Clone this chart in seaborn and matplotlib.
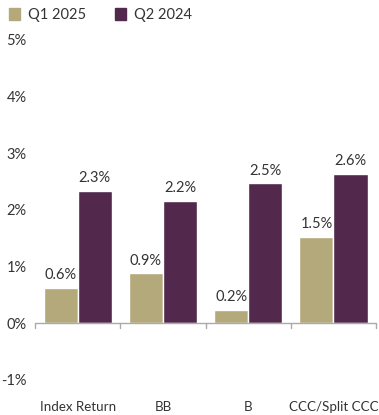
import matplotlib
matplotlib.use("Agg")
import matplotlib.pyplot as plt
import seaborn as sns
import pandas as pd

categories = ["Index Return", "BB", "B", "CCC/Split CCC"]
series = ["Q1 2025", "Q2 2024"]
q1_2025 = [0.62, 0.88, 0.23, 1.52]
q2_2024 = [2.34, 2.16, 2.47, 2.64]
colors = ["#b4a97b", "#52284d"]

df = pd.DataFrame({
    "category": categories * 2,
    "series": [series[0]] * 4 + [series[1]] * 4,
    "value": q1_2025 + q2_2024,
})

sns.set_theme(style="white")
plt.rcParams["font.family"] = ["Lato", "DejaVu Sans"]
txt = "#333333"

fig = plt.figure(figsize=(3.79, 4.15), dpi=100)
ax = fig.add_axes([0.0923, 0.0443, 0.9, 0.9003])

sns.barplot(data=df, x="category", y="value", hue="series", order=categories,
            hue_order=series, palette=colors, width=0.8, saturation=1,
            ax=ax, legend=False)

for cont in ax.containers:
    ax.bar_label(cont, labels=[f"{v:.1f}%" for v in cont.datavalues],
                 padding=4, fontsize=10.5, color=txt)

ax.set_ylim(-1.3, 5.3)
ax.set_xlim(-0.5, 3.5)
ax.set_yticks(range(-1, 6))
ax.set_yticklabels([f"{t}%" for t in range(-1, 6)], fontsize=10.5, color=txt)
ax.tick_params(axis="y", length=0, pad=6)
ax.tick_params(axis="x", length=0, pad=3, labelsize=9.6, labelcolor=txt)
ax.set_xlabel("")
ax.set_ylabel("")
for s in ax.spines.values():
    s.set_visible(False)

# zero line with separators between categories
ax.axhline(0, color="#aaaaaa", lw=1)
for b in [-0.5, 0.5, 1.5, 2.5, 3.5]:
    ax.plot([b, b], [0, -0.09], color="#aaaaaa", lw=1, clip_on=False)

# legend at top
handles = [plt.Rectangle((0, 0), 1, 1, color=c) for c in colors]
fig.legend(handles, series, loc="upper left", bbox_to_anchor=(-0.012, 1.012),
           ncol=2, frameon=False, fontsize=10.5, handlelength=0.8,
           handleheight=0.8, handletextpad=0.5, columnspacing=2.0,
           labelcolor=txt)

fig.savefig("out.png", dpi=100)
